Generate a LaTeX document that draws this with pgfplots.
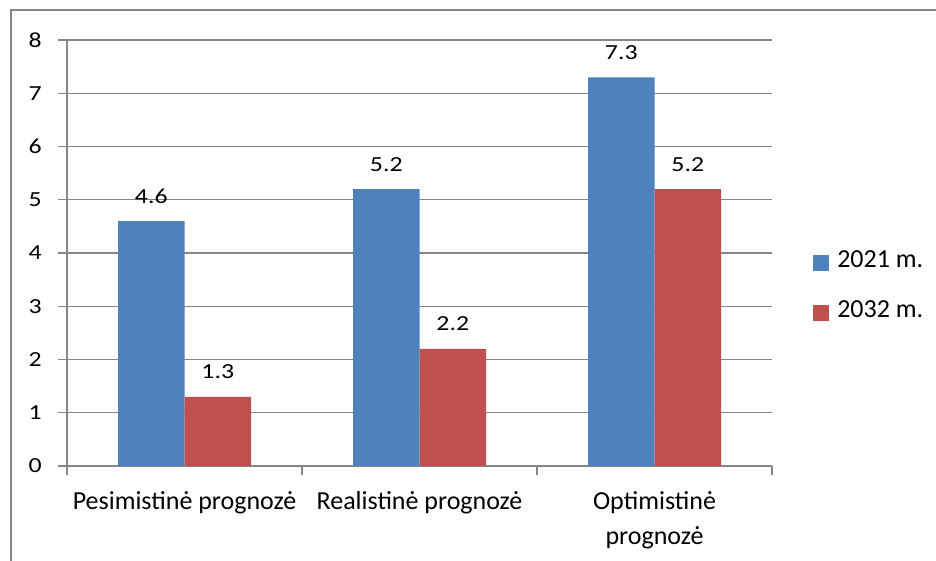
\documentclass[border=0pt]{standalone}
\usepackage{fontspec}
\setmainfont{Carlito}
\usepackage{graphicx}
\usepackage{pgfplots}
\pgfplotsset{compat=1.18}
\definecolor{barblue}{HTML}{4F81BD}
\definecolor{barred}{HTML}{C0504D}
\definecolor{axgray}{HTML}{868686}
\begin{document}
\fontsize{20bp}{24bp}\selectfont
\begin{tikzpicture}
\useasboundingbox (0,0) rectangle (936bp,561bp);
\draw[axgray,line width=2.2bp] (11bp,-10bp) -- (11bp,551bp) -- (950bp,551bp);
\begin{axis}[
  at={(67bp,95bp)}, anchor=south west,
  scale only axis, width=705bp, height=426bp,
  ybar=0pt, bar width=66.5bp,
  xmin=-0.5, xmax=2.5, ymin=0, ymax=8,
  xtick={0,1,2},
  xticklabels={Pesimistinė prognozė, Realistinė prognozė,
     {\begin{tabular}[t]{@{}c@{}}Optimistinė\\prognozė\end{tabular}}},
  xticklabel style={anchor=north, font=\fontsize{26bp}{35bp}\selectfont,
     inner sep=0pt, text height=16bp, yshift=-18bp},
  minor xtick={-0.5,0.5,1.5,2.5},
  ytick={0,1,...,8},
  tick align=outside,
  major tick length=9bp, minor tick length=9bp,
  x tick style={draw=none},
  minor x tick style={draw=axgray, line width=1.2bp},
  y tick style={draw=axgray, line width=1.2bp},
  ymajorgrids, grid style={draw=axgray, line width=1.2bp},
  axis x line*=bottom, axis y line*=left,
  axis line style={draw=axgray, line width=1.4bp},
  x axis line style={-}, y axis line style={-},
  yticklabel={\scalebox{1.2}[1]{\pgfmathprintnumber{\tick}}},
  yticklabel style={font=\fontsize{21.5bp}{24bp}\selectfont, anchor=east, inner sep=0pt, xshift=-16bp},
  /pgf/number format/assume math mode=true,
  nodes near coords={\scalebox{1.2}[1]{\pgfmathprintnumber[fixed,fixed zerofill,precision=1]{\pgfplotspointmeta}}},
  nodes near coords style={font=\fontsize{21.5bp}{24bp}\selectfont, anchor=base, yshift=18bp, inner sep=0pt},
  legend style={at={(1.054,0.418)}, anchor=west, draw=none, fill=none,
     font=\fontsize{26bp}{28bp}\selectfont,
     nodes={inner sep=0pt, text height=14bp, text depth=4bp},
     row sep=32bp, /tikz/every even column/.append style={column sep=0pt}},
  legend cell align=left,
  legend image code/.code={\fill[#1] (0bp,-8bp) rectangle (16bp,8bp); \path (24bp,0bp);},
]
\addplot[fill=barblue, draw=none] coordinates {(0,4.6) (1,5.2) (2,7.3)};
\addplot[fill=barred, draw=none] coordinates {(0,1.3) (1,2.2) (2,5.2)};
\legend{2021 m., 2032 m.}
\end{axis}
\end{tikzpicture}
\end{document}
